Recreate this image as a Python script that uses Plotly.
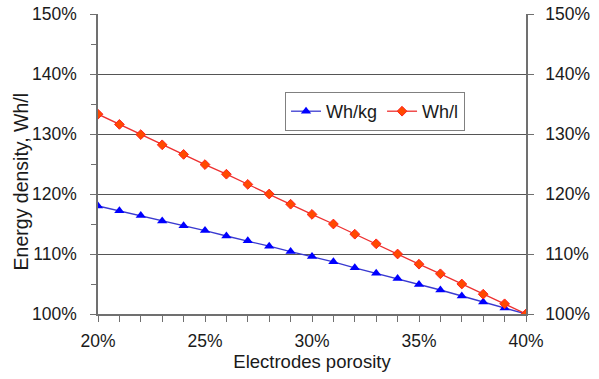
import plotly.graph_objects as go

porosity = [20, 21, 22, 23, 24, 25, 26, 27, 28, 29, 30, 31, 32, 33, 34, 35, 36, 37, 38, 39, 40]
wh_kg = [118.0, 117.2, 116.4, 115.5, 114.7, 113.9, 113.0, 112.2, 111.3, 110.4, 109.6,
         108.7, 107.7, 106.8, 105.9, 104.9, 104.0, 103.0, 102.0, 101.0, 100.0]
wh_l = [133.3, 131.6, 129.9, 128.2, 126.6, 124.9, 123.3, 121.6, 120.0, 118.3, 116.6,
        115.0, 113.3, 111.7, 110.0, 108.3, 106.7, 105.0, 103.3, 101.7, 100.0]

font = "Liberation Sans, Arial, sans-serif"
axcol = "#707070"
fig = go.Figure()
fig.add_trace(go.Scatter(x=porosity, y=wh_kg, name="Wh/kg", mode="lines+markers",
                         line=dict(color="#3a3ad0", width=1.3),
                         marker=dict(symbol="triangle-up", size=9, color="#0000ff",
                                     line=dict(width=0))))
fig.add_trace(go.Scatter(x=porosity, y=wh_l, name="Wh/l", mode="lines+markers",
                         line=dict(color="#ee3030", width=1.3),
                         marker=dict(symbol="diamond", size=7.5, color="#ff4a00",
                                     line=dict(width=1, color="#ff2020"))))
fig.add_trace(go.Scatter(x=[20], y=[100], yaxis="y2", showlegend=False,
                         mode="markers", marker=dict(opacity=0), hoverinfo="skip"))

fig.update_layout(
    width=599, height=379,
    margin=dict(l=98, r=73, t=14, b=65, autoexpand=False),
    paper_bgcolor="white", plot_bgcolor="white",
    font=dict(family=font, size=17.5, color="#1a1a1a"),
    xaxis=dict(range=[20, 40], dtick=5, tick0=20, ticksuffix="%", automargin=False,
               showgrid=False, zeroline=False,
               showline=True, linecolor=axcol, linewidth=1.5,
               ticks="outside", ticklen=6, tickcolor=axcol, ticklabelstandoff=4,
               minor=dict(dtick=1, ticks="outside", ticklen=6, tickcolor=axcol),
               title=dict(text="Electrodes porosity", standoff=4,
                          font=dict(size=18.5))),
    yaxis=dict(range=[100, 150], dtick=10, ticksuffix="%", automargin=False,
               showgrid=True, gridcolor="#555555", gridwidth=1.2, zeroline=False,
               showline=True, linecolor=axcol, linewidth=1.5,
               ticks="outside", ticklen=6, tickcolor=axcol, ticklabelstandoff=10,
               minor=dict(dtick=5, ticks="outside", ticklen=5, tickcolor=axcol)),
    yaxis2=dict(range=[100, 150], dtick=10, ticksuffix="%", overlaying="y",
                side="right", showgrid=False, zeroline=False, automargin=False,
                showline=True, linecolor=axcol, linewidth=1.5,
                ticks="outside", ticklen=6, tickcolor=axcol, ticklabelstandoff=8),
    legend=dict(orientation="h", x=0.437, y=0.74, xanchor="left", yanchor="top",
                bgcolor="white", bordercolor="#808080", borderwidth=1,
                font=dict(size=18), itemwidth=30, tracegroupgap=0),
    annotations=[dict(text="Energy density, Wh/l", textangle=-90, xref="paper", yref="paper",
                      x=-0.179, y=0.44, xanchor="center", yanchor="middle",
                      showarrow=False, font=dict(size=19.5))],
    showlegend=True,
)
fig.write_html("out.html")
